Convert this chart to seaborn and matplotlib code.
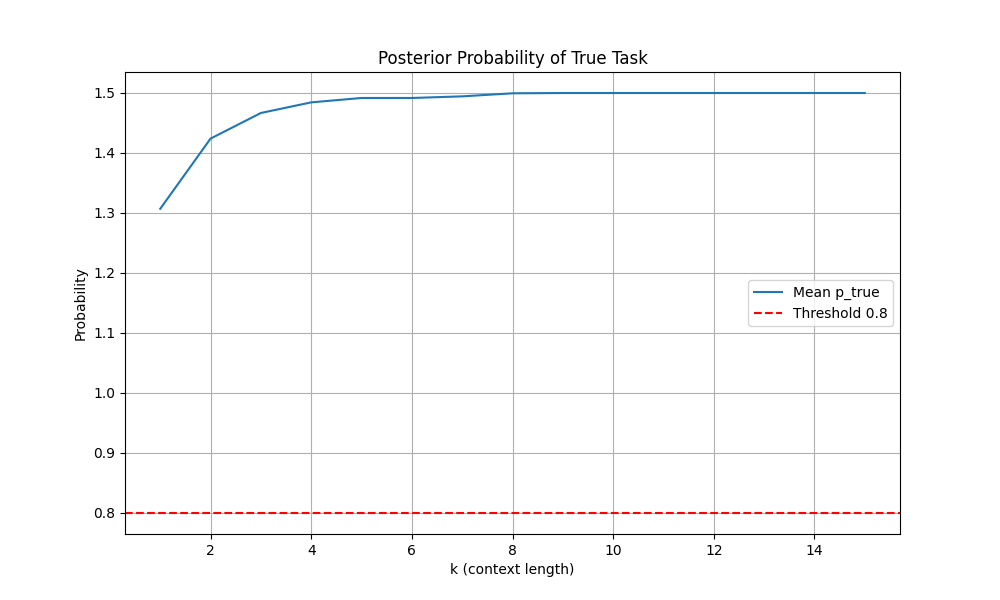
import matplotlib
matplotlib.use("Agg")
import matplotlib.pyplot as plt
import pandas as pd
import seaborn as sns

# data
k_values = list(range(1, 16))
mean_p_true = [1.307, 1.424, 1.4667, 1.4844, 1.4917, 1.4917, 1.4944, 1.4995,
               1.5, 1.5, 1.5, 1.5, 1.5, 1.5, 1.5]
threshold = 0.8

df = pd.DataFrame({'k': k_values, 'p_true': mean_p_true})

fig, ax = plt.subplots(figsize=(10, 6), dpi=100)
sns.lineplot(data=df, x='k', y='p_true', color='tab:blue', label='Mean p_true', ax=ax)
ax.axhline(threshold, color='red', linestyle='--', label=f'Threshold {threshold}')

ax.set_title('Posterior Probability of True Task')
ax.set_xlabel('k (context length)')
ax.set_ylabel('Probability')
ax.grid(True)
ax.legend(loc='center right')

fig.savefig('out.png')
